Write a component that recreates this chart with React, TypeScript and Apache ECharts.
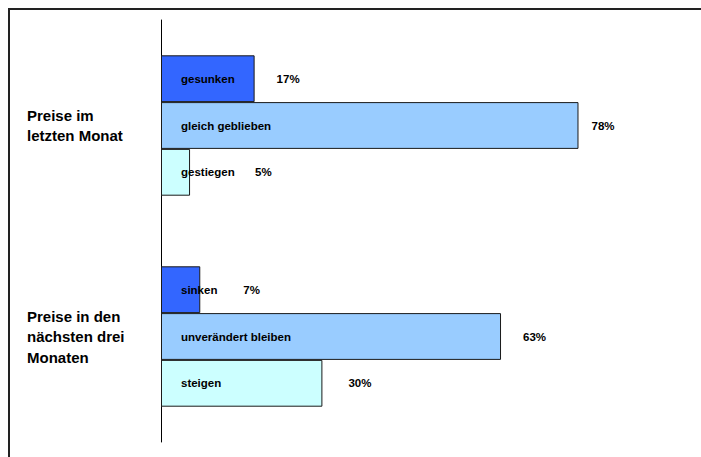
import React, { useEffect, useRef } from "react";
import * as echarts from "echarts";

const categories = ["Preise im\nletzten Monat", "Preise in den\nnächsten drei\nMonaten"];

const topNames = ["gesunken", "sinken"];
const topValues = [17.4, 7.3];
const midNames = ["gleich geblieben", "unverändert bleiben"];
const midValues = [77.6, 63.2];
const botNames = ["gestiegen", "steigen"];
const botValues = [5.4, 30.0];

const colors = ["#3366FF", "#99CCFF", "#CCFFFF"];
const pctDistances = [
  [22, 43],
  [13, 22],
  [65, 26],
];

const FONT = "'Liberation Sans', Arial, Helvetica, sans-serif";

export default function App() {
  const ref = useRef<HTMLDivElement>(null);
  useEffect(() => {
    if (!ref.current) return;
    const chart = echarts.init(ref.current, undefined, { renderer: "svg" });
    const groups = [
      { names: topNames, values: topValues },
      { names: midNames, values: midValues },
      { names: botNames, values: botValues },
    ];
    const series: any[] = [];
    groups.forEach((g, gi) => {
      series.push({
        type: "bar",
        name: "s" + gi,
        stack: "st" + gi,
        barWidth: 46.8,
        barGap: "0%",
        itemStyle: { color: colors[gi], borderColor: "#1a1a1a", borderWidth: 1 },
        label: {
          show: true,
          position: [20, "50%"],
          align: "left",
          verticalAlign: "middle",
          color: "#000",
          fontWeight: "bold",
          fontSize: 11.5,
          fontFamily: FONT,
          formatter: (p: any) => g.names[p.dataIndex],
        },
        data: g.values,
      });
      series.push({
        type: "bar",
        name: "p" + gi,
        stack: "st" + gi,
        barWidth: 46.8,
        barGap: "0%",
        silent: true,
        itemStyle: { color: "rgba(0,0,0,0)", borderWidth: 0 },
        data: g.values.map((v, i) => ({
          value: 0.0001,
          label: {
            show: true,
            position: "right",
            distance: pctDistances[gi][i],
            color: "#000",
            fontWeight: "bold",
            fontSize: 11.5,
            fontFamily: FONT,
            formatter: () => Math.round(v) + "%",
          },
        })),
      });
    });
    chart.setOption({
      animation: false,
      grid: { left: 161, right: 2, top: 20, bottom: 15 },
      xAxis: { type: "value", min: 0, max: 100, show: false },
      yAxis: {
        type: "category",
        data: categories,
        inverse: true,
        axisLine: { show: true, lineStyle: { color: "#000", width: 1 } },
        axisTick: { show: false },
        splitLine: { show: false },
        axisLabel: {
          align: "left",
          margin: 134,
          color: "#000",
          fontWeight: "bold",
          fontSize: 15,
          lineHeight: 20.5,
          fontFamily: FONT,
        },
      },
      series,
    });
    return () => chart.dispose();
  }, []);
  return (
    <div
      style={{
        position: "fixed",
        left: 0,
        top: 0,
        width: 701,
        height: 457,
        background: "#fff",
        overflow: "hidden",
      }}
    >
      <div
        style={{
          position: "absolute",
          left: 8,
          top: 8,
          width: 720,
          height: 480,
          borderLeft: "2px solid #222",
          borderTop: "2px solid #222",
        }}
      />
      <div ref={ref} style={{ position: "absolute", left: 0, top: 0, width: 701, height: 457 }} />
    </div>
  );
}
